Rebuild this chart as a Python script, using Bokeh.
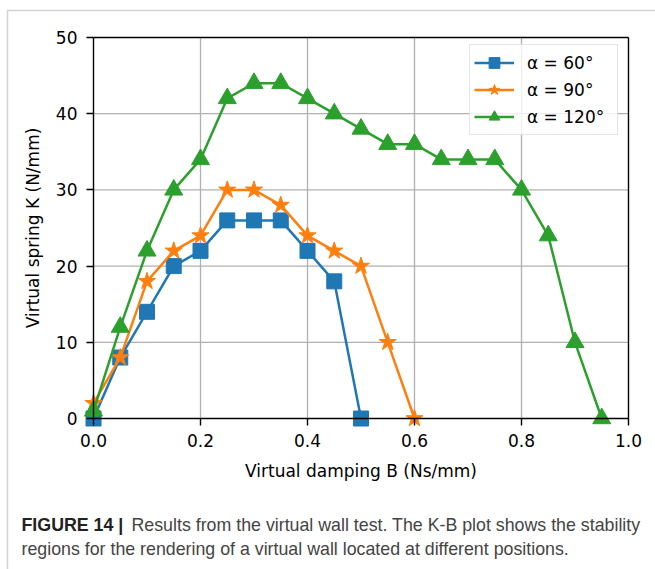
from bokeh.plotting import figure
from bokeh.models import (Range1d, LinearAxis, FixedTicker, Label, BoxAnnotation,
                          Legend, LegendItem, Grid)
from bokeh.embed import file_html
from bokeh.resources import INLINE

# ---------------- data ----------------
b_60 = [0.00, 0.05, 0.10, 0.15, 0.20, 0.25, 0.30, 0.35, 0.40, 0.45, 0.50]
k_60 = [0, 8, 14, 20, 22, 26, 26, 26, 22, 18, 0]

b_90 = [0.00, 0.05, 0.10, 0.15, 0.20, 0.25, 0.30, 0.35, 0.40, 0.45, 0.50, 0.55, 0.60]
k_90 = [2, 8, 18, 22, 24, 30, 30, 28, 24, 22, 20, 10, 0]

b_120 = [0.00, 0.05, 0.10, 0.15, 0.20, 0.25, 0.30, 0.35, 0.40, 0.45,
         0.50, 0.55, 0.60, 0.65, 0.70, 0.75, 0.80, 0.85, 0.90, 0.95]
k_120 = [1, 12, 22, 30, 34, 42, 44, 44, 42, 40, 38, 36, 36, 34, 34, 34, 30, 24, 10, 0]

series_labels = ["α = 60°", "α = 90°", "α = 120°"]

x_ticks = [0.0, 0.2, 0.4, 0.6, 0.8, 1.0]
x_tick_labels = ["0.0", "0.2", "0.4", "0.6", "0.8", "1.0"]
y_ticks = [0, 10, 20, 30, 40, 50]
y_tick_labels = ["0", "10", "20", "30", "40", "50"]
x_lim = (0.0, 1.0)
y_lim = (0.0, 50.0)

x_title = "Virtual damping B (Ns/mm)"
y_title = "Virtual spring K (N/mm)"
caption_bold = "FIGURE 14 |"
caption_line1 = "Results from the virtual wall test. The K-B plot shows the stability"
caption_line2 = "regions for the rendering of a virtual wall located at different positions."

# ---------------- layout constants ----------------
W, H = 655, 569
FRAME_L, FRAME_R, FRAME_T, FRAME_B = 93, 628, 37, 418   # axes box in pixels
PX_X = (FRAME_R - FRAME_L) / (x_lim[1] - x_lim[0])
PX_Y = (FRAME_B - FRAME_T) / (y_lim[1] - y_lim[0])


def dx(px):
    return x_lim[0] + (px - FRAME_L) / PX_X


def dy(py):
    return y_lim[0] + (FRAME_B - py) / PX_Y


FONT = "DejaVu Sans"
FS = "17px"
SPINE_W = 1.4

# the plotting frame spans the whole canvas; the axes are pinned at the data limits
p = figure(width=W, height=H, output_backend="svg", toolbar_location=None,
           x_range=Range1d(dx(0), dx(W)), y_range=Range1d(dy(H), dy(0)),
           x_axis_location=None, y_axis_location=None,
           min_border_left=0, min_border_right=0, min_border_top=0, min_border_bottom=0)
p.outline_line_color = None
p.background_fill_color = "white"
p.border_fill_color = "white"
p.center = [c for c in p.center if not isinstance(c, Grid)]


def style_axis(ax):
    ax.axis_line_color = "black"
    ax.axis_line_width = SPINE_W
    ax.major_tick_line_color = "black"
    ax.major_tick_line_width = SPINE_W
    ax.major_tick_out = 7
    ax.major_tick_in = 0
    ax.minor_tick_line_color = None
    ax.major_label_text_font = FONT
    ax.major_label_text_font_size = FS
    ax.major_label_text_color = "black"
    ax.axis_label_text_font = FONT
    ax.axis_label_text_font_size = FS
    ax.axis_label_text_font_style = "normal"
    ax.axis_label_text_color = "black"


xaxis = LinearAxis(ticker=FixedTicker(ticks=x_ticks), fixed_location=y_lim[0],
                   bounds=x_lim, axis_label=x_title)
style_axis(xaxis)
xaxis.major_label_overrides = {t: s for t, s in zip(x_ticks, x_tick_labels)}
xaxis.major_label_standoff = 8
xaxis.axis_label_standoff = 11
p.add_layout(xaxis, "below")

yaxis = LinearAxis(ticker=FixedTicker(ticks=y_ticks), fixed_location=x_lim[0],
                   bounds=y_lim, axis_label=y_title)
style_axis(yaxis)
yaxis.major_label_overrides = {t: s for t, s in zip(y_ticks, y_tick_labels)}
yaxis.major_label_standoff = 9
yaxis.axis_label_standoff = 10
p.add_layout(yaxis, "left")

top = LinearAxis(ticker=FixedTicker(ticks=[]), fixed_location=y_lim[1], bounds=x_lim)
style_axis(top)
top.major_tick_out = 0
top.major_label_text_font_size = "0px"
p.add_layout(top, "above")

right = LinearAxis(ticker=FixedTicker(ticks=[]), fixed_location=x_lim[1], bounds=y_lim)
style_axis(right)
right.major_tick_out = 0
right.major_label_text_font_size = "0px"
p.add_layout(right, "right")

# grid lines (interior ticks only)
gx = x_ticks[1:-1]
gy = y_ticks[1:-1]
p.segment(x0=gx, y0=[y_lim[0]] * len(gx), x1=gx, y1=[y_lim[1]] * len(gx),
          line_color="#b0b0b0", line_width=1.3)
p.segment(x0=[x_lim[0]] * len(gy), y0=gy, x1=[x_lim[1]] * len(gy), y1=gy,
          line_color="#b0b0b0", line_width=1.3)

colors = ["#1f77b4", "#ff7f0e", "#2ca02c"]
markers = ["square", "star", "triangle"]
sizes = [15, 18, 18]
xs_all = [b_60, b_90, b_120]
ys_all = [k_60, k_90, k_120]

items = []
for lab, xs, ys, c, m, s in zip(series_labels, xs_all, ys_all, colors, markers, sizes):
    ln = p.line(xs, ys, line_color=c, line_width=2.5)
    sc = p.scatter(xs, ys, marker=m, size=s, fill_color=c, line_color=c, line_width=1)
    items.append(LegendItem(label=lab, renderers=[ln, sc]))

LEG_LEFT, LEG_TOP, LEG_H = 469, 46, 89
legend = Legend(items=items, location=(LEG_LEFT, H - LEG_TOP - LEG_H), margin=0,
                label_text_font=FONT, label_text_font_size=FS, label_text_color="black",
                glyph_width=40, glyph_height=27, label_height=27, label_width=86,
                label_standoff=13, padding=4, spacing=0,
                border_line_color="#cccccc", border_line_width=1,
                background_fill_color="white", background_fill_alpha=0.8)
p.add_layout(legend)

# outer frame of the figure panel
p.add_layout(BoxAnnotation(left=dx(7), right=dx(W + 50), top=dy(10), bottom=dy(H + 50),
                           fill_alpha=0, line_color="#6b6b6b", line_width=1.5))

# caption
CAP_FONT = "Liberation Sans"
CAP_FS = "17.8px"
p.add_layout(Label(x=dx(21), y=dy(524), text=caption_bold, text_font=CAP_FONT,
                   text_font_size=CAP_FS, text_font_style="bold", text_color="#222222",
                   text_baseline="alphabetic", text_align="left"))
p.add_layout(Label(x=dx(131), y=dy(524), text=caption_line1, text_font=CAP_FONT,
                   text_font_size=CAP_FS, text_color="#444444",
                   text_baseline="alphabetic", text_align="left"))
p.add_layout(Label(x=dx(21), y=dy(548), text=caption_line2, text_font=CAP_FONT,
                   text_font_size=CAP_FS, text_color="#444444",
                   text_baseline="alphabetic", text_align="left"))

open("out.html", "w").write(file_html(p, INLINE))
